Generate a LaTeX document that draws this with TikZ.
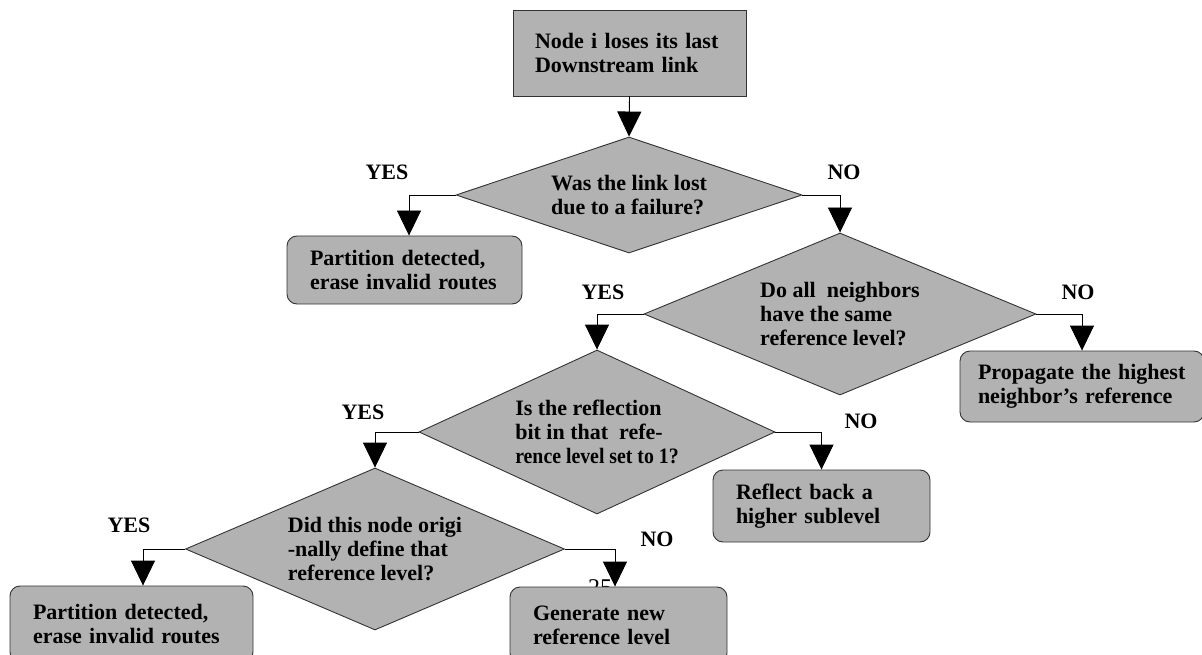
\documentclass[tikz,border=0pt]{standalone}
\usepackage{fontspec}
\usepackage{graphicx}
\setmainfont{Liberation Serif}
\usetikzlibrary{shapes.geometric,arrows.meta}
\tikzset{
  decision/.style={diamond, draw=black!80, fill=black!30, line width=0.9pt, inner sep=0pt, align=left},
  startbox/.style={rectangle, draw=black!80, fill=black!30, line width=0.9pt, inner xsep=22pt, align=left},
  action/.style={startbox, rounded corners=10pt, inner xsep=23pt},
  flow/.style={draw=black, line width=0.9pt, -{Triangle[width=24pt,length=25pt]}}
}

\begin{document}
\begin{tikzpicture}[x=1pt,y=-1pt,font=\bfseries\fontsize{22}{24}\selectfont]
   \useasboundingbox (0,0) rectangle (1202,655);
   \node[font=\fontsize{24}{26}\selectfont, anchor=base] (pagenum) at (600,595) {25};
   \node[startbox, text width=189pt, minimum height=86pt] (start) at (629.5,53) {Node i loses its last\\Downstream link};
   \node[decision, aspect=2.98, minimum width=346pt, minimum height=116pt] (failq) at (629,195) {Was the link lost\\due to a failure?};
   \node[action, text width=189pt, minimum height=68pt] (part1) at (404.5,270) {Partition detected,\\erase invalid routes};
   \node[decision, aspect=2.42, minimum width=392pt, minimum height=162pt] (sameq) at (840,314) {Do all\ \ neighbors\\have the same\\reference level?};
   \node[action, text width=208pt, inner xsep=18pt, minimum height=71pt] (prop) at (1082,386.5) {Propagate the highest\\neighbor's reference};
   \node[decision, aspect=2.17, minimum width=356pt, minimum height=164pt] (reflq) at (597,432) {Is the reflection\\bit in that\ \ refe-\\\scalebox{0.9}[1]{rence level set to 1?}};
   \node[action, text width=171pt, minimum height=72pt] (reflect) at (821.5,506) {Reflect back a\\higher sublevel};
   \node[decision, aspect=2.34, minimum width=379pt, minimum height=162pt] (origq) at (375,549) {Did this node origi\\-nally define that\\reference level?};
   \node[action, text width=197pt, minimum height=76pt] (part2) at (131.5,624) {Partition detected,\\erase invalid routes};
   \node[action, text width=171pt, minimum height=76pt] (gen) at (618.5,625) {Generate new\\reference level};
   \node (yes1) at (387,172) {YES};
   \node (no1) at (844,172) {NO};
   \node (yes2) at (603,292) {YES};
   \node (no2) at (1078,292) {NO};
   \node (yes3) at (363,412) {YES};
   \node (no3) at (861,421) {NO};
   \node (yes4) at (129,525) {YES};
   \node (no4) at (657,539) {NO};
   \draw[flow] (start.south) -- (failq.north);
   \draw[flow] (failq.west) -| ([xshift=4.5pt]part1.north);
   \draw[flow] (failq.east) -| (sameq.north);
   \draw[flow] (sameq.west) -| (reflq.north);
   \draw[flow] (sameq.east) -| (prop.north);
   \draw[flow] (reflq.west) -| (origq.north);
   \draw[flow] (reflq.east) -| (reflect.north);
   \draw[flow] (origq.west) -| ([xshift=11.5pt]part2.north);
   \draw[flow] (origq.east) -| ([xshift=-3.5pt]gen.north);
\end{tikzpicture}
\end{document}
